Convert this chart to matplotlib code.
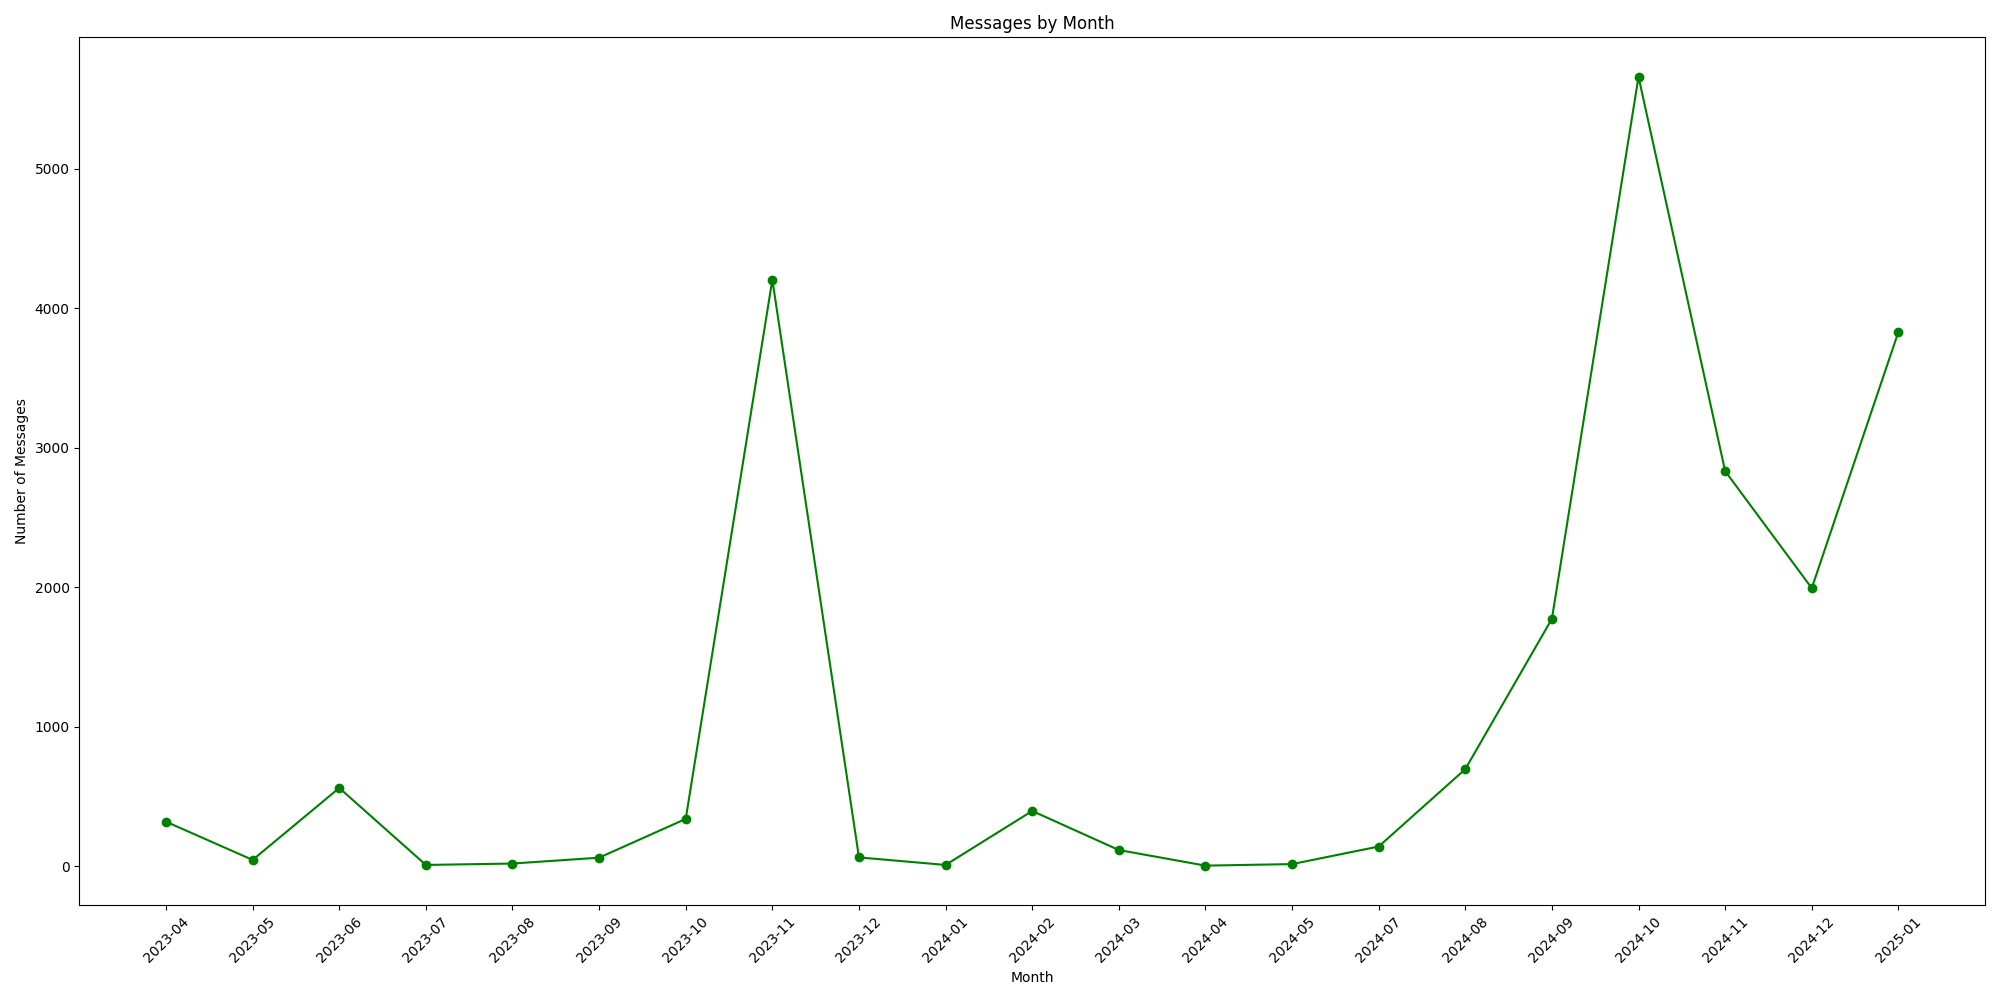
import matplotlib
matplotlib.use("Agg")
import matplotlib.pyplot as plt

months = ["2023-04", "2023-05", "2023-06", "2023-07", "2023-08", "2023-09", "2023-10",
          "2023-11", "2023-12", "2024-01", "2024-02", "2024-03", "2024-04", "2024-05",
          "2024-07", "2024-08", "2024-09", "2024-10", "2024-11", "2024-12", "2025-01"]
messages = [318, 44, 560, 8, 18, 60, 338, 4205, 62, 8, 395, 115, 3, 14, 140, 695,
            1773, 5660, 2832, 1993, 3830]

fig, ax = plt.subplots(figsize=(20, 10), dpi=100)
ax.plot(months, messages, marker="o", color="green")
ax.set_title("Messages by Month")
ax.set_xlabel("Month")
ax.set_ylabel("Number of Messages")
plt.xticks(rotation=45)
plt.tight_layout()
plt.savefig("out.png")
